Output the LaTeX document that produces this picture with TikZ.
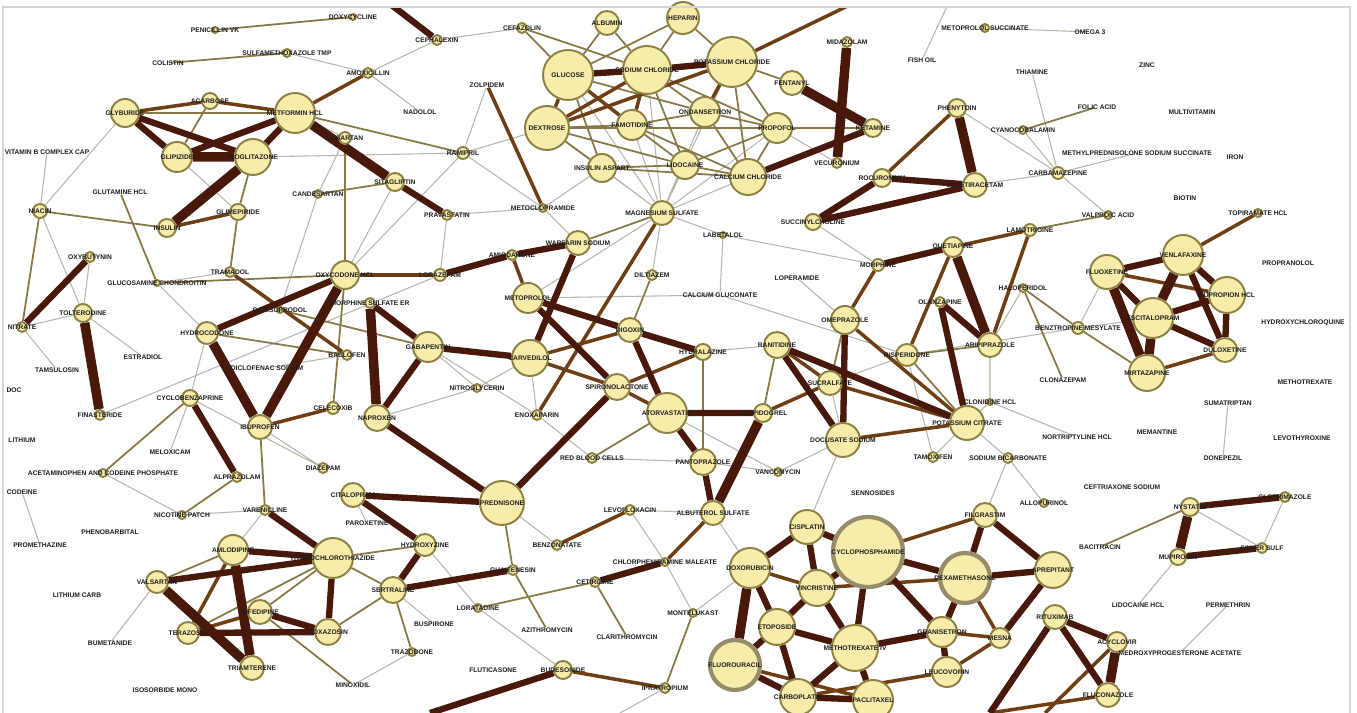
\documentclass[tikz,border=0pt]{standalone}
\usepackage{fontspec}
\usetikzlibrary{backgrounds}

\newfontfamily\lblfont{Liberation Sans}
\newcommand{\lblsize}{\lblfont\bfseries\fontsize{1.9}{2.1}\selectfont}
\newcommand{\dn}[1]{\makebox[0pt]{#1}}

\definecolor{nodefill}{RGB}{248,236,170}
\definecolor{nodeedge}{RGB}{140,128,66}
\definecolor{hubedge}{RGB}{150,140,105}
\definecolor{labelink}{RGB}{30,30,30}
\definecolor{edgedark}{RGB}{72,24,10}
\definecolor{edgebrown}{RGB}{110,62,20}
\definecolor{edgeolive}{RGB}{135,120,70}
\definecolor{edgegray}{RGB}{185,183,170}
\definecolor{framegray}{RGB}{214,214,214}

\begin{document}
\begin{tikzpicture}[
    x=0.1mm, y=-0.1mm,
    drug/.style={circle, draw=nodeedge, fill=nodefill, line width=0.55pt,
        inner sep=0pt, minimum size=#1*0.2mm, text=labelink, font=\lblsize},
    hub/.style={drug=#1, draw=hubedge, line width=1.2pt},
    tag/.style={circle, inner sep=0pt, minimum size=0.4mm, text=labelink, font=\lblsize},
    weak/.style={draw=edgegray, line width=0.3pt},
    mild/.style={draw=edgeolive, line width=0.5pt},
    firm/.style={draw=edgebrown, line width=1pt},
    strong/.style={draw=edgedark, line width=1.8pt},
    heavy/.style={draw=edgedark, line width=2.7pt}
]
\useasboundingbox (0,0) rectangle (1357,713);

% top left
\node[drug=14] (tl1) at (125,113) {\dn{GLYBURIDE}};
\node[drug=8]  (tl2) at (210,101) {\dn{ACARBOSE}};
\node[drug=20] (tl3) at (295,113) {\dn{METFORMIN HCL}};
\node[drug=15] (tl4) at (177,157) {\dn{GLIPIZIDE}};
\node[drug=18] (tl5) at (253,157) {\dn{PIOGLITAZONE}};
\node[drug=9]  (tl6) at (167,228) {\dn{INSULIN}};
\node[drug=8]  (tl7) at (238,212) {\dn{GLIMEPIRIDE}};
\node[drug=7]  (tl8) at (40,211) {\dn{NIACIN}};
\node[drug=6]  (tl9) at (345,138) {\dn{LOSARTAN}};
\node[drug=9]  (tl10) at (395,182) {\dn{SITAGLIPTIN}};
\node[drug=4]  (tl11) at (318,194) {\dn{CANDESARTAN}};
\node[drug=4]  (tl12) at (287,53) {\dn{SULFAMETHOXAZOLE TMP}};
\node[drug=5]  (tl13) at (368,73) {\dn{AMOXICILLIN}};
\node[drug=5]  (tl14) at (437,40) {\dn{CEPHALEXIN}};
\node[drug=3]  (tl15) at (215,30) {\dn{PENICILLIN VK}};
\node[tag] (tl16) at (168,63) {\dn{COLISTIN}};
\node[tag] (tl17) at (120,192) {\dn{GLUTAMINE HCL}};
\node[tag] (tl18) at (47,152) {\dn{VITAMIN B COMPLEX CAP}};
\node[drug=6]  (tl19) at (463,153) {\dn{RAMIPRIL}};
\node[tag] (tl20) at (420,112) {\dn{NADOLOL}};
\node[drug=3]  (tl21) at (353,17) {\dn{DOXYCYCLINE}};

% middle left
\node[drug=5]  (ml1) at (90,257) {\dn{OXYBUTYNIN}};
\node[drug=5]  (ml2) at (22,327) {\dn{NITRATE}};
\node[drug=9]  (ml3) at (83,313) {\dn{TOLTERODINE}};
\node[tag] (ml4) at (57,370) {\dn{TAMSULOSIN}};
\node[drug=5]  (ml5) at (100,415) {\dn{FINASTERIDE}};
\node[drug=3]  (ml6) at (157,283) {\dn{GLUCOSAMINE CHONDROITIN}};
\node[tag] (ml7) at (143,357) {\dn{ESTRADIOL}};
\node[drug=5]  (ml8) at (230,272) {\dn{TRAMADOL}};
\node[drug=11] (ml9) at (207,333) {\dn{HYDROCODONE}};
\node[drug=14] (ml10) at (345,275) {\dn{OXYCODONE HCL}};
\node[drug=5]  (ml11) at (370,303) {\dn{MORPHINE SULFATE ER}};
\node[drug=15] (ml12) at (428,347) {\dn{GABAPENTIN}};
\node[drug=5]  (ml13) at (347,355) {\dn{BACLOFEN}};
\node[drug=3]  (ml14) at (280,310) {\dn{CARISOPRODOL}};
\node[tag] (ml15) at (267,368) {\dn{DICLOFENAC SODIUM}};
\node[drug=8]  (ml16) at (190,398) {\dn{CYCLOBENZAPRINE}};
\node[drug=12] (ml17) at (260,427) {\dn{IBUPROFEN}};
\node[drug=6]  (ml18) at (333,408) {\dn{CELECOXIB}};
\node[drug=13] (ml19) at (377,418) {\dn{NAPROXEN}};
\node[tag] (ml20) at (170,452) {\dn{MELOXICAM}};
\node[drug=4]  (ml21) at (103,473) {\dn{ACETAMINOPHEN AND CODEINE PHOSPHATE}};
\node[drug=5]  (ml22) at (237,477) {\dn{ALPRAZOLAM}};
\node[drug=5]  (ml23) at (323,468) {\dn{DIAZEPAM}};
\node[drug=6]  (ml24) at (440,275) {\dn{LORAZEPAM}};
\node[tag] (ml25) at (22,440) {\dn{LITHIUM}};
\node[tag] (ml26) at (14,390) {\dn{DOC}};

% top centre
\node[drug=12] (tc1) at (607,23) {\dn{ALBUMIN}};
\node[drug=16] (tc2) at (683,18) {\dn{HEPARIN}};
\node[drug=5]  (tc3) at (522,28) {\dn{CEFAZOLIN}};
\node[drug=25] (tc4) at (568,75) {\dn{GLUCOSE}};
\node[drug=24] (tc5) at (647,70) {\dn{SODIUM CHLORIDE}};
\node[drug=25] (tc6) at (732,62) {\dn{POTASSIUM CHLORIDE}};
\node[drug=12] (tc7) at (792,83) {\dn{FENTANYL}};
\node[drug=5]  (tc8) at (847,42) {\dn{MIDAZOLAM}};
\node[drug=22] (tc9) at (547,128) {\dn{DEXTROSE}};
\node[drug=15] (tc10) at (632,125) {\dn{FAMOTIDINE}};
\node[drug=15] (tc11) at (705,112) {\dn{ONDANSETRON}};
\node[drug=15] (tc12) at (777,128) {\dn{PROPOFOL}};
\node[drug=9]  (tc13) at (873,128) {\dn{KETAMINE}};
\node[drug=14] (tc14) at (602,168) {\dn{INSULIN ASPART}};
\node[drug=14] (tc15) at (685,165) {\dn{LIDOCAINE}};
\node[drug=18] (tc16) at (748,177) {\dn{CALCIUM CHLORIDE}};
\node[drug=5]  (tc17) at (837,163) {\dn{VECURONIUM}};
\node[drug=12] (tc18) at (662,213) {\dn{MAGNESIUM SULFATE}};
\node[drug=9]  (tc19) at (882,178) {\dn{ROCURONIUM}};
\node[drug=8]  (tc20) at (813,222) {\dn{SUCCINYLCHOLINE}};
\node[drug=4]  (tc21) at (543,208) {\dn{METOCLOPRAMIDE}};
\node[tag] (tc22) at (487,85) {\dn{ZOLPIDEM}};
\node[drug=3]  (tc23) at (723,235) {\dn{LABETALOL}};

% centre
\node[drug=12] (c1) at (578,243) {\dn{WARFARIN SODIUM}};
\node[drug=5]  (c2) at (512,255) {\dn{AMIODARONE}};
\node[drug=15] (c3) at (528,298) {\dn{METOPROLOL}};
\node[drug=5]  (c4) at (652,275) {\dn{DILTIAZEM}};
\node[tag] (c5) at (720,295) {\dn{CALCIUM GLUCONATE}};
\node[drug=12] (c6) at (630,330) {\dn{DIGOXIN}};
\node[drug=18] (c7) at (530,358) {\dn{CARVEDILOL}};
\node[drug=8]  (c8) at (703,352) {\dn{HYDRALAZINE}};
\node[drug=13] (c9) at (617,387) {\dn{SPIRONOLACTONE}};
\node[drug=20] (c10) at (667,413) {\dn{ATORVASTATIN}};
\node[drug=9]  (c11) at (763,413) {\dn{CLOPIDOGREL}};
\node[drug=5]  (c12) at (537,415) {\dn{ENOXAPARIN}};
\node[drug=4]  (c13) at (477,388) {\dn{NITROGLYCERIN}};
\node[drug=5]  (c14) at (592,458) {\dn{RED BLOOD CELLS}};
\node[drug=13] (c15) at (703,462) {\dn{PANTOPRAZOLE}};
\node[drug=4]  (c16) at (778,472) {\dn{VANCOMYCIN}};
\node[drug=22] (c17) at (502,503) {\dn{PREDNISONE}};
\node[drug=5]  (c18) at (630,510) {\dn{LEVOFLOXACIN}};
\node[drug=12] (c19) at (713,513) {\dn{ALBUTEROL SULFATE}};
\node[drug=5]  (c20) at (557,545) {\dn{BENZONATATE}};
\node[drug=5]  (c21) at (513,570) {\dn{GUAIFENESIN}};
\node[drug=5]  (c22) at (595,582) {\dn{CETIRIZINE}};
\node[drug=4]  (c23) at (665,562) {\dn{CHLORPHENIRAMINE MALEATE}};
\node[drug=4]  (c24) at (478,608) {\dn{LORATADINE}};
\node[tag] (c25) at (547,630) {\dn{AZITHROMYCIN}};
\node[tag] (c26) at (627,637) {\dn{CLARITHROMYCIN}};
\node[drug=4]  (c27) at (693,613) {\dn{MONTELUKAST}};
\node[tag] (c28) at (493,670) {\dn{FLUTICASONE}};
\node[drug=9]  (c29) at (563,670) {\dn{BUDESONIDE}};
\node[drug=5]  (c30) at (665,688) {\dn{IPRATROPIUM}};
\node[drug=11] (c31) at (425,545) {\dn{HYDROXYZINE}};
\node[drug=13] (c32) at (393,590) {\dn{SERTRALINE}};
\node[drug=4]  (c33) at (412,652) {\dn{TRAZODONE}};
\node[tag] (c34) at (434,624) {\dn{BUSPIRONE}};
\node[drug=5]  (c36) at (447,215) {\dn{PRAVASTATIN}};

% top right
\node[drug=4]  (tr1) at (985,28) {\dn{METOPROLOL SUCCINATE}};
\node[tag] (tr2) at (1090,32) {\dn{OMEGA 3}};
\node[tag] (tr3) at (922,60) {\dn{FISH OIL}};
\node[tag] (tr4) at (1147,65) {\dn{ZINC}};
\node[tag] (tr5) at (1032,72) {\dn{THIAMINE}};
\node[drug=9]  (tr6) at (957,108) {\dn{PHENYTOIN}};
\node[tag] (tr7) at (1097,107) {\dn{FOLIC ACID}};
\node[tag] (tr8) at (1192,112) {\dn{MULTIVITAMIN}};
\node[drug=4]  (tr9) at (1023,130) {\dn{CYANOCOBALAMIN}};
\node[tag] (tr10) at (1137,153) {\dn{METHYLPREDNISOLONE SODIUM SUCCINATE}};
\node[tag] (tr11) at (1235,157) {\dn{IRON}};
\node[drug=12] (tr12) at (975,185) {\dn{LEVETIRACETAM}};
\node[drug=6]  (tr13) at (1058,173) {\dn{CARBAMAZEPINE}};
\node[tag] (tr14) at (1185,198) {\dn{BIOTIN}};
\node[drug=4]  (tr15) at (1108,215) {\dn{VALPROIC ACID}};
\node[drug=4]  (tr16) at (1258,213) {\dn{TOPIRAMATE HCL}};
\node[drug=6]  (tr17) at (1030,230) {\dn{LAMOTRIGINE}};

% middle right
\node[drug=10] (mr1) at (953,247) {\dn{QUETIAPINE}};
\node[drug=5]  (mr2) at (940,302) {\dn{OLANZAPINE}};
\node[drug=11] (mr3) at (907,355) {\dn{RISPERIDONE}};
\node[drug=12] (mr4) at (990,345) {\dn{ARIPIPRAZOLE}};
\node[drug=4]  (mr5) at (1023,288) {\dn{HALOPERIDOL}};
\node[drug=6]  (mr6) at (1078,328) {\dn{BENZTROPINE MESYLATE}};
\node[tag] (mr7) at (1063,380) {\dn{CLONAZEPAM}};
\node[drug=17] (mr8) at (1107,272) {\dn{FLUOXETINE}};
\node[drug=20] (mr9) at (1183,255) {\dn{VENLAFAXINE}};
\node[drug=18] (mr10) at (1227,295) {\dn{BUPROPION HCL}};
\node[drug=20] (mr11) at (1153,318) {\dn{ESCITALOPRAM}};
\node[drug=12] (mr12) at (1225,350) {\dn{DULOXETINE}};
\node[drug=18] (mr13) at (1147,373) {\dn{MIRTAZAPINE}};
\node[tag] (mr14) at (1288,263) {\dn{PROPRANOLOL}};
\node[tag] (mr15) at (1303,323) {\dn{HYDROXYCHLOROQUINE}};
\node[tag] (mr16) at (1305,382) {\dn{METHOTREXATE}};
\node[tag] (mr17) at (1228,403) {\dn{SUMATRIPTAN}};
\node[tag] (mr18) at (1223,458) {\dn{DONEPEZIL}};
\node[tag] (mr19) at (1157,432) {\dn{MEMANTINE}};
\node[tag] (mr20) at (1302,438) {\dn{LEVOTHYROXINE}};
\node[tag] (mr21) at (1077,437) {\dn{NORTRIPTYLINE HCL}};
\node[drug=3]  (mr22) at (990,402) {\dn{CLONIDINE HCL}};
\node[drug=17] (mr23) at (967,423) {\dn{POTASSIUM CITRATE}};
\node[drug=5]  (mr24) at (933,457) {\dn{TAMOXIFEN}};
\node[drug=5]  (mr25) at (1008,458) {\dn{SODIUM BICARBONATE}};
\node[drug=4]  (mr26) at (1044,503) {\dn{ALLOPURINOL}};
\node[tag] (mr27) at (1122,487) {\dn{CEFTRIAXONE SODIUM}};
\node[drug=6]  (mr28) at (878,265) {\dn{MORPHINE}};
\node[tag] (mr29) at (797,278) {\dn{LOPERAMIDE}};
\node[drug=14] (mr30) at (845,320) {\dn{OMEPRAZOLE}};
\node[drug=13] (mr31) at (777,345) {\dn{RANITIDINE}};
\node[drug=12] (mr32) at (830,383) {\dn{SUCRALFATE}};
\node[drug=17] (mr33) at (843,440) {\dn{DOCUSATE SODIUM}};
\node[tag] (mr34) at (873,493) {\dn{SENNOSIDES}};

% bottom right
\node[drug=17] (br1) at (807,527) {\dn{CISPLATIN}};
\node[hub=35]  (br2) at (868,552) {\dn{CYCLOPHOSPHAMIDE}};
\node[drug=20] (br3) at (750,568) {\dn{DOXORUBICIN}};
\node[drug=18] (br4) at (817,588) {\dn{VINCRISTINE}};
\node[drug=18] (br5) at (777,627) {\dn{ETOPOSIDE}};
\node[drug=23] (br6) at (855,648) {\dn{METHOTREXATE IV}};
\node[hub=25]  (br7) at (735,665) {\dn{FLUOROURACIL}};
\node[drug=18] (br8) at (798,697) {\dn{CARBOPLATIN}};
\node[drug=20] (br9) at (873,700) {\dn{PACLITAXEL}};
\node[drug=12] (br10) at (985,515) {\dn{FILGRASTIM}};
\node[hub=25]  (br11) at (965,578) {\dn{DEXAMETHASONE}};
\node[drug=18] (br12) at (1053,570) {\dn{APREPITANT}};
\node[drug=15] (br13) at (942,632) {\dn{GRANISETRON}};
\node[drug=10] (br14) at (1000,638) {\dn{MESNA}};
\node[drug=15] (br15) at (947,672) {\dn{LEUCOVORIN}};
\node[drug=12] (br16) at (1055,617) {\dn{RITUXIMAB}};
\node[drug=10] (br17) at (1117,642) {\dn{ACYCLOVIR}};
\node[drug=12] (br18) at (1108,695) {\dn{FLUCONAZOLE}};
\node[drug=9]  (br20) at (1190,507) {\dn{NYSTATIN}};
\node[drug=5]  (br21) at (1285,497) {\dn{CLOTRIMAZOLE}};
\node[drug=8]  (br22) at (1178,557) {\dn{MUPIROCIN}};
\node[drug=5]  (br23) at (1262,548) {\dn{SILVER SULF}};
\node[tag] (br24) at (1100,547) {\dn{BACITRACIN}};
\node[tag] (br25) at (1138,605) {\dn{LIDOCAINE HCL}};
\node[tag] (br26) at (1228,605) {\dn{PERMETHRIN}};
\node[tag] (br27) at (1180,653) {\dn{MEDROXYPROGESTERONE ACETATE}};

% bottom left
\node[tag] (bl1) at (22,492) {\dn{CODEINE}};
\node[tag] (bl2) at (40,545) {\dn{PROMETHAZINE}};
\node[tag] (bl3) at (110,532) {\dn{PHENOBARBITAL}};
\node[drug=4]  (bl4) at (182,515) {\dn{NICOTINE PATCH}};
\node[drug=5]  (bl5) at (265,510) {\dn{VARENICLINE}};
\node[drug=12] (bl6) at (353,495) {\dn{CITALOPRAM}};
\node[tag] (bl7) at (367,523) {\dn{PAROXETINE}};
\node[tag] (bl8) at (77,595) {\dn{LITHIUM CARB}};
\node[drug=11] (bl9) at (157,582) {\dn{VALSARTAN}};
\node[drug=15] (bl10) at (233,550) {\dn{AMLODIPINE}};
\node[drug=20] (bl11) at (333,558) {\dn{HYDROCHLOROTHIAZIDE}};
\node[drug=12] (bl12) at (260,612) {\dn{NIFEDIPINE}};
\node[drug=11] (bl13) at (188,633) {\dn{TERAZOSIN}};
\node[drug=13] (bl14) at (328,632) {\dn{DOXAZOSIN}};
\node[drug=12] (bl15) at (252,668) {\dn{TRIAMTERENE}};
\node[tag] (bl16) at (110,643) {\dn{BUMETANIDE}};
\node[tag] (bl17) at (165,690) {\dn{ISOSORBIDE MONO}};
\node[tag] (bl18) at (353,685) {\dn{MINOXIDIL}};

% loose ends leaving the frame
\coordinate (topA) at (385,0);
\coordinate (topB) at (860,0);
\coordinate (topC) at (950,0);
\coordinate (botA) at (430,713);
\coordinate (botB) at (990,713);
\coordinate (botC) at (620,713);
\coordinate (botD) at (1045,713);

\draw[framegray, line width=0.8pt] (3,713) |- (1350,7) -- (1350,713);

\begin{scope}[on background layer]
\fill[white] (0,0) rectangle (1357,713);
\clip (4,8) rectangle (1349,713);

\draw[weak] (tl8) -- (tl1) (tl8) -- (tl18) (tl8) -- (ml3) (tl4) -- (tl7) (tl3) -- (tl9)
    (tl5) -- (tl19) (tl9) -- (tl11) (tl12) -- (tl13) (tl13) -- (tl20) (tl19) -- (tc21)
    (tl19) -- (tc9) (ml10) -- (tl19) (ml2) -- (ml3) (ml2) -- (ml4) (ml3) -- (ml1)
    (ml3) -- (ml7) (ml6) -- (ml8) (ml6) -- (ml9) (ml16) -- (ml20) (ml16) -- (ml9)
    (ml17) -- (ml23) (ml16) -- (ml23) (bl4) -- (ml21) (bl4) -- (bl5) (bl5) -- (bl10)
    (bl1) -- (bl2) (bl9) -- (bl16) (ml24) -- (ml5) (ml15) -- (ml13) (bl6) -- (bl7)
    (c5) -- (c3) (c5) -- (mr3) (c16) -- (c10) (tc18) -- (tc9) (tc18) -- (tc10)
    (tc18) -- (tc14) (tc18) -- (tc15) (tc18) -- (tc16) (tc18) -- (tc11) (tc18) -- (tc12)
    (tc18) -- (tc4) (tc18) -- (tc5) (tc18) -- (tc6) (tc18) -- (tc23) (tc21) -- (tc14)
    (tc23) -- (mr28) (tr1) -- (tr2) (tr3) -- (topC) (tr6) -- (tr13) (tr9) -- (tr13)
    (tr5) -- (tr13) (tr13) -- (tr10) (tr13) -- (tr12) (tr13) -- (tr15) (mr6) -- (mr8)
    (mr6) -- (mr3) (br21) -- (br23) (br20) -- (br23) (br22) -- (br25) (br26) -- (br27)
    (c27) -- (br1) (c30) -- (botC) (c29) -- (c24) (c20) -- (c17) (c18) -- (c19)
    (mr17) -- (mr18) (mr24) -- (mr23) (mr25) -- (mr23) (mr22) -- (mr23) (mr26) -- (mr25)
    (c16) -- (mr33) (c19) -- (br3) (c13) -- (ml12) (c13) -- (c7) (c12) -- (c7)
    (mr29) -- (mr30) (mr21) -- (mr22) (c24) -- (c31) (c34) -- (c32) (c33) -- (bl18)
    (tc23) -- (c5) (mr3) -- (mr24) (tc18) -- (c4) (tc18) -- (c3) (c36) -- (tc21)
    (c36) -- (ml24) (tl10) -- (ml10) (tl11) -- (ml14) (ml12) -- (c12) (ml19) -- (c13)
    (c12) -- (c14) (c14) -- (c15) (c15) -- (c16) (mr32) -- (mr33) (mr3) -- (mr32)
    (c8) -- (mr31) (tc20) -- (mr28) (tc17) -- (tc12) (tl14) -- (tc3) (tl13) -- (tl14)
    (tl19) -- (tc22) (mr4) -- (mr22) (mr5) -- (mr4) (mr6) -- (mr11) (br1) -- (mr33)
    (br10) -- (mr25) (c23) -- (c27) (c18) -- (c23) (tc21) -- (c1) (ml8) -- (ml14);

\draw[mild] (tl1) -- (tl3) (tl2) -- (tl4) (tl5) -- (tl7) (tl12) -- (tl16) (tl15) -- (tl21)
    (tl3) -- (tl19) (tl8) -- (tl6) (tl8) -- (ml2) (tl9) -- (ml10) (tl11) -- (tl10)
    (tl7) -- (ml8) (tl17) -- (ml6) (ml6) -- (ml10) (ml21) -- (ml16) (ml17) -- (bl5)
    (ml18) -- (ml10) (ml13) -- (ml9) (ml14) -- (ml12) (ml22) -- (bl4)
    (tc3) -- (tc4) (tc3) -- (tc5) (tc1) -- (tc4) (tc1) -- (tc5) (tc2) -- (tc5)
    (tc2) -- (tc6) (tc2) -- (tc4) (tc4) -- (tc14) (tc5) -- (tc11) (tc5) -- (tc15)
    (tc6) -- (tc12) (tc6) -- (tc16) (tc9) -- (tc10) (tc10) -- (tc11) (tc11) -- (tc12)
    (tc9) -- (tc14) (tc14) -- (tc15) (tc15) -- (tc16) (tc10) -- (tc15) (tc11) -- (tc16)
    (tc12) -- (tc16) (tc9) -- (tc15) (tc10) -- (tc16) (tc12) -- (tc15) (tc4) -- (tc11)
    (tc5) -- (tc12) (tc6) -- (tc7) (tc12) -- (tc13) (tc9) -- (tc12) (tc14) -- (tc16)
    (tr9) -- (tr7) (tr15) -- (tr17) (mr5) -- (mr6) (mr5) -- (mr7) (mr3) -- (mr4)
    (c14) -- (c10) (c8) -- (c15) (c22) -- (c24) (c22) -- (c26) (c21) -- (c25)
    (c30) -- (c27) (bl12) -- (bl18) (c32) -- (c33) (c32) -- (bl14) (c32) -- (bl11)
    (c31) -- (bl11) (br20) -- (br24) (bl9) -- (bl10) (bl11) -- (bl12) (bl11) -- (bl13)
    (c17) -- (c21) (c1) -- (tc18) (c4) -- (c6) (mr31) -- (c11) (mr30) -- (mr32)
    (mr3) -- (mr23) (mr6) -- (mr13);

\draw[firm] (tl1) -- (tl2) (tl2) -- (tl3) (tl6) -- (tl7) (tl3) -- (tl13) (tc4) -- (tc9)
    (tc9) -- (tc5) (tc6) -- (topB) (tr6) -- (tc19) (tc18) -- (c12) (c7) -- (c6)
    (c7) -- (c9) (c9) -- (c8) (c9) -- (c10) (c19) -- (c23) (c20) -- (c18)
    (c29) -- (c30) (ml17) -- (ml18) (ml8) -- (ml13) (mr1) -- (mr3) (mr30) -- (mr23)
    (mr32) -- (mr23) (mr33) -- (mr23) (mr31) -- (mr32) (mr30) -- (mr28) (c11) -- (mr32)
    (mr4) -- (tr17) (tr17) -- (mr1) (tr16) -- (mr9) (mr8) -- (mr10) (mr13) -- (mr12)
    (br2) -- (br10) (br3) -- (br4) (br4) -- (br11) (br14) -- (br15) (br15) -- (br8)
    (br7) -- (br9) (br11) -- (br14) (br13) -- (br14) (br17) -- (botD) (br18) -- (botB)
    (bl10) -- (bl13) (bl12) -- (bl13) (tc22) -- (tc21) (tc4) -- (tc10) (tc5) -- (tc10)
    (tc6) -- (tc11) (tc9) -- (tc6) (c2) -- (c3) (ml10) -- (ml24);

\draw[strong] (tl1) -- (tl4) (tl1) -- (tl5) (tl4) -- (tl3) (tl5) -- (tl3) (tl10) -- (c36)
    (topA) -- (tl14) (tc4) -- (tc5) (tc5) -- (tc6) (tc16) -- (tc13) (tr12) -- (tc19)
    (tr12) -- (tc20) (tc19) -- (tc20) (ml10) -- (ml9) (ml11) -- (ml12) (ml12) -- (ml19)
    (ml19) -- (c17) (ml12) -- (c7) (ml1) -- (ml2) (ml16) -- (ml22) (c1) -- (c7)
    (c1) -- (c2) (ml24) -- (c2) (c3) -- (c6) (c3) -- (c9) (c6) -- (c8)
    (c6) -- (c10) (c10) -- (c11) (c10) -- (c15) (c15) -- (c19) (c17) -- (c9)
    (c17) -- (bl6) (c32) -- (c21) (c32) -- (c31) (c31) -- (bl6) (c23) -- (c22)
    (c29) -- (botA) (bl10) -- (bl11) (bl9) -- (bl11) (bl11) -- (bl14) (bl12) -- (bl14)
    (bl13) -- (bl14) (bl5) -- (bl11) (mr2) -- (mr4) (mr2) -- (mr23) (mr1) -- (mr28)
    (mr30) -- (mr33) (mr31) -- (mr33) (mr31) -- (mr23) (mr8) -- (mr9) (mr8) -- (mr11)
    (mr9) -- (mr10) (mr10) -- (mr11) (mr11) -- (mr12) (mr10) -- (mr12) (mr9) -- (mr12)
    (br1) -- (br2) (br1) -- (br3) (br1) -- (br4) (br2) -- (br4) (br2) -- (br6)
    (br2) -- (br11) (br3) -- (br5) (br4) -- (br5) (br4) -- (br6) (br5) -- (br6)
    (br5) -- (br7) (br5) -- (br8) (br6) -- (br8) (br6) -- (br9) (br7) -- (br8)
    (br8) -- (br9) (br6) -- (br13) (br11) -- (br12) (br11) -- (br13) (br10) -- (br11)
    (br10) -- (br12) (br12) -- (br14) (br13) -- (br15) (br2) -- (br13) (br16) -- (br17)
    (br16) -- (br18) (br16) -- (botB) (br20) -- (br21) (br22) -- (br23);

\draw[heavy] (tl4) -- (tl5) (tl5) -- (tl6) (tl3) -- (tl10) (tc7) -- (tc13) (tc8) -- (tc17)
    (tr6) -- (tr12) (ml10) -- (ml17) (ml9) -- (ml17) (ml3) -- (ml5) (ml11) -- (ml19)
    (c11) -- (c19) (mr1) -- (mr4) (mr8) -- (mr13) (mr9) -- (mr11) (mr11) -- (mr13)
    (bl9) -- (bl15) (bl10) -- (bl15) (br3) -- (br7) (br17) -- (br18) (br20) -- (br22);
\end{scope}

\end{tikzpicture}
\end{document}
